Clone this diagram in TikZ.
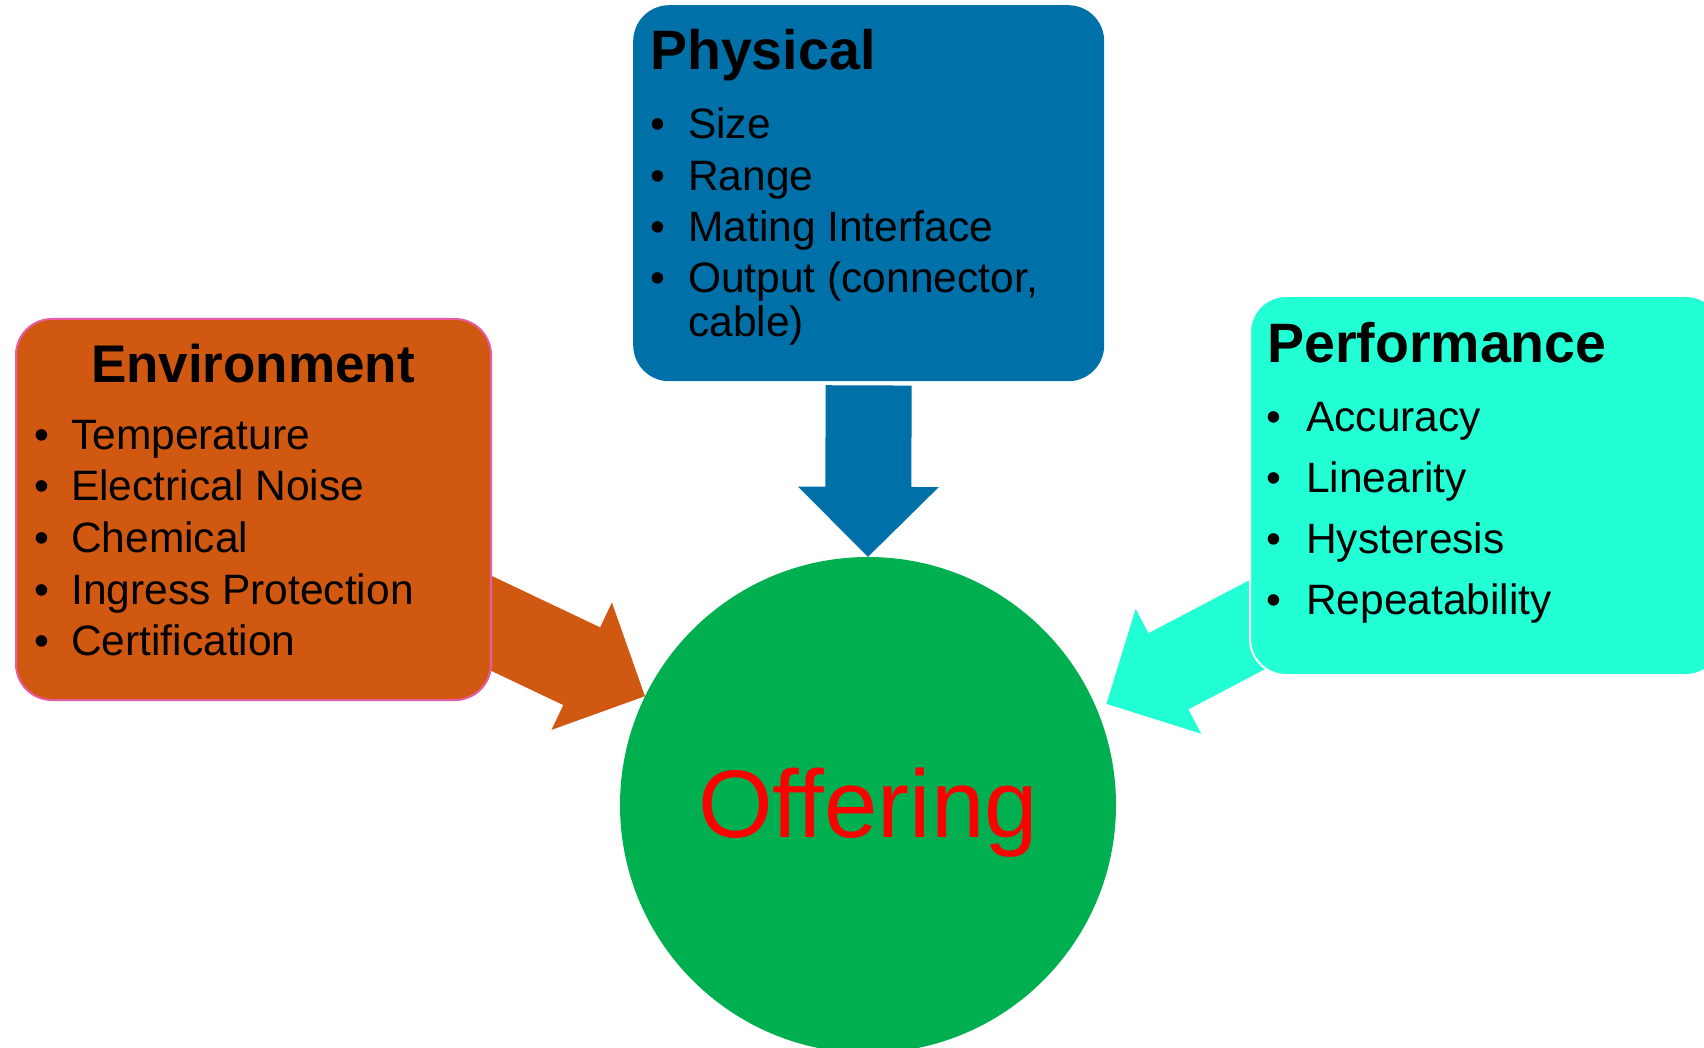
\documentclass[tikz,border=0pt]{standalone}
\usepackage{fontspec}
\setmainfont{Liberation Sans}
\usetikzlibrary{calc,backgrounds}

\definecolor{envfill}{RGB}{208,88,16}
\definecolor{envline}{RGB}{230,92,165}
\definecolor{physfill}{RGB}{0,112,168}
\definecolor{perffill}{RGB}{34,255,212}
\definecolor{offerfill}{RGB}{0,176,80}
\definecolor{offertext}{RGB}{255,0,0}

\pgfdeclarelayer{paper}
\pgfsetlayers{paper,background,main}

% Block arrow from a tail point #2 to a tip point #3, filled with colour #1
\newcommand\drawblockarrow[3]{%
  \fill[#1] let \p1=#2, \p2=#3, \n1={atan2(\y2-\y1,\x2-\x1)} in
    (\p2)
    -- ($(\p2)+(\n1+180:70pt)+(\n1+90:70.5pt)$)
    -- ($(\p2)+(\n1+180:70pt)+(\n1+90:43pt)$)
    -- ($(\p1)+(\n1+90:43pt)$)
    -- ($(\p1)+(\n1-90:43pt)$)
    -- ($(\p2)+(\n1+180:70pt)+(\n1-90:43pt)$)
    -- ($(\p2)+(\n1+180:70pt)+(\n1-90:70.5pt)$)
    -- cycle;}

\begin{document}
\begin{tikzpicture}[x=1pt,y=-1pt,
  box/.style={rectangle, rounded corners=36pt, inner sep=0pt, anchor=north west},
  title/.style={inner sep=0pt, font=\bfseries\fontsize{55.5}{60}\selectfont},
  item/.style={inner sep=0pt, anchor=base west, font=\fontsize{42.5}{50}\selectfont},
  bul/.style={inner sep=0pt, anchor=base, font=\fontsize{42.5}{50}\selectfont}]

\clip (0,0) rectangle (1704,1048);
\begin{pgfonlayer}{paper}
  \fill[white] (0,0) rectangle (1704,1048);
\end{pgfonlayer}

% central offering
\node[circle, fill=offerfill, minimum size=496pt, inner sep=0pt] (offer) at (868,805) {};
\node[anchor=base, inner sep=0pt, text=offertext, font=\fontsize{96}{110}\selectfont] (offerlabel) at (868,837) {Offering};

% three requirement boxes
\node[box, fill=envfill, draw=envline, line width=2pt, minimum width=475pt, minimum height=381pt] (env) at (15,318) {};
\node[box, fill=physfill, minimum width=471pt, minimum height=376pt] (phys) at (633,5) {};
\node[box, fill=perffill, draw=white, line width=2pt, minimum width=472pt, minimum height=379pt] (perf) at (1249,295) {};

% block arrows into the offering
\coordinate (envtail) at (419,589);
\coordinate (perftail) at (1329,587);
\coordinate (envtip) at (offer.154.2);
\coordinate (perftip) at ($(offer.center)!259pt!(offer.23)$);
\coordinate (phystail) at ([yshift=-4pt]phys.south);
\begin{pgfonlayer}{background}
  \drawblockarrow{envfill}{(envtail)}{(envtip)}
  \drawblockarrow{perffill}{(perftail)}{(perftip)}
  \drawblockarrow{physfill}{(phystail)}{(offer.north)}
\end{pgfonlayer}

% Environment
\node[title, anchor=base, font=\bfseries\fontsize{53}{60}\selectfont] (envtitle) at (253,382) {Environment};
\foreach \t [count=\i] in {Temperature, Electrical Noise, Chemical, Ingress Protection, Certification} {
  \pgfmathsetmacro\yy{449+51.7*(\i-1)}
  \node[bul] (envb\i) at (42,\yy) {•};
  \node[item] (envi\i) at (71,\yy) {\t};
}

% Physical
\node[title, anchor=base west] (phystitle) at (650,70) {Physical};
\foreach \t [count=\i] in {Size, Range, Mating Interface, {Output (connector,}} {
  \pgfmathsetmacro\yy{139+51.3*(\i-1)}
  \node[bul] (physb\i) at (658,\yy) {•};
  \node[item] (physi\i) at (688,\yy) {\t};
}
\node[item] (physi5) at (688,336) {cable)};

% Performance
\node[title, anchor=base west] (perftitle) at (1267,362) {Performance};
\foreach \t [count=\i] in {Accuracy, Linearity, Hysteresis, Repeatability} {
  \pgfmathsetmacro\yy{431+61*(\i-1)}
  \node[bul] (perfb\i) at (1274,\yy) {•};
  \node[item] (perfi\i) at (1306,\yy) {\t};
}
\end{tikzpicture}
\end{document}
